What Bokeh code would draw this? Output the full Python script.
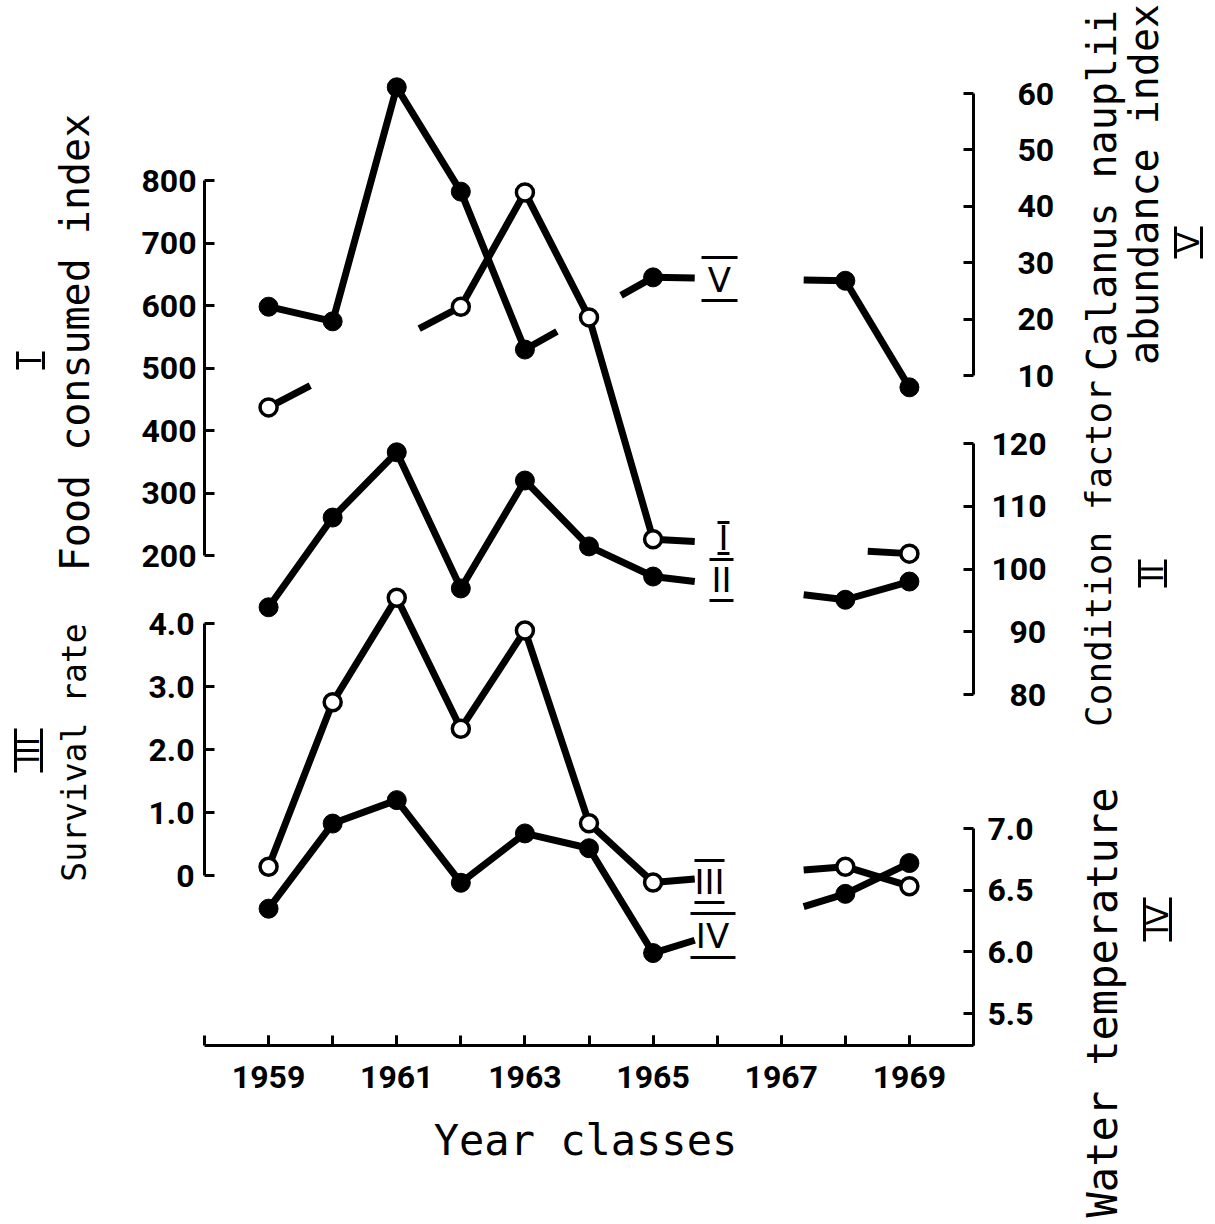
import math
from bokeh.plotting import figure
from bokeh.models import Range1d, LinearAxis, FixedTicker, Label, NumeralTickFormatter
from bokeh.embed import file_html
from bokeh.resources import INLINE
from bokeh.core.properties import value

# ---------------- data ----------------
years = [1959, 1960, 1961, 1962, 1963, 1964, 1965, 1966, 1967, 1968, 1969]
food_consumed_I = [437, None, None, 598, 781, 581, 226, None, None, None, 203]
condition_factor_II = [93.9, 108.2, 118.6, 96.9, 114.1, 103.6, 98.8, None, None, 95.1, 98.0]
survival_rate_III = [0.14, 2.75, 4.41, 2.33, 3.89, 0.83, -0.11, None, None, 0.14, -0.17]
water_temperature_IV = [6.35, 7.04, 7.23, 6.56, 6.96, 6.84, 5.99, None, None, 6.47, 6.72]
calanus_index_V = [22.2, 19.6, 61.1, 42.6, 14.6, None, 27.4, None, None, 26.8, 7.9]

x_major_ticks = [1959, 1961, 1963, 1965, 1967, 1969]
x_minor_ticks = [1958, 1959, 1960, 1961, 1962, 1963, 1964, 1965, 1966, 1967, 1968, 1969, 1970]
ticks_I = [200, 300, 400, 500, 600, 700, 800]
ticks_II = [80, 90, 100, 110, 120]
ticks_III = [0, 1, 2, 3, 4]
ticks_IV = [5.5, 6.0, 6.5, 7.0]
ticks_V = [10, 20, 30, 40, 50, 60]

# ---------------- layout ----------------
W, H, M = 1213, 1222, 0
X_L, X_R = 204, 973          # page x of 1958 and 1970
X_AXIS_Y = 1045              # page y of the year axis
ppy = (X_R - X_L) / 12.0
x_start = 1958 - (X_L - M) / ppy
x_end = x_start + W / ppy


def yr(va, ya, vb, yb):
    k = (vb - va) / (yb - ya)
    return Range1d(start=va + (H + M - ya) * k, end=va + (M - ya) * k)


def val_at(rng, ypage):
    return rng.start + (rng.end - rng.start) * (H + M - ypage) / H


p = figure(width=W, height=H, x_range=Range1d(x_start, x_end), y_range=Range1d(H, 0),
           x_axis_location=None, y_axis_location=None, toolbar_location=None,
           output_backend="svg", min_border=0, outline_line_color=None,
           background_fill_color="white", border_fill_color="white")
p.xgrid.visible = False
p.ygrid.visible = False

p.extra_x_ranges = {"px": Range1d(0, W)}
p.extra_y_ranges = {
    "I": yr(800, 180, 200, 555),
    "II": yr(120, 443, 80, 694),
    "III": yr(4.0, 623, 0.0, 875),
    "IV": yr(7.0, 828, 5.5, 1013),
    "V": yr(60, 93, 10, 375),
}

NUM_FONT = "Roboto"
TITLE_FONT = "DejaVu Sans Mono"
ROMAN_FONT = "DejaVu Sans"


def style_axis(ax, size):
    ax.axis_line_width = 3
    ax.axis_line_color = "black"
    ax.major_tick_in = 10
    ax.major_tick_out = 0
    ax.major_tick_line_width = 3
    ax.major_tick_line_color = "black"
    ax.major_label_text_font = NUM_FONT
    ax.major_label_text_font_size = size
    ax.major_label_text_font_style = "bold"
    ax.major_label_text_color = "black"


def add_y(name, ticks, side, loc, standoff, bounds=None, fmt=None, overrides=None):
    ax = LinearAxis(y_range_name=name, ticker=FixedTicker(ticks=ticks),
                    fixed_location=loc,
                    bounds=bounds if bounds is not None else (min(ticks), max(ticks)))
    style_axis(ax, "32px")
    ax.minor_tick_line_color = None
    ax.major_label_standoff = standoff
    if fmt is not None:
        ax.formatter = fmt
    if overrides is not None:
        ax.major_label_overrides = overrides
    p.add_layout(ax, side)
    return ax


add_y("I", ticks_I, "left", 1958, 8)
add_y("III", ticks_III, "left", 1958, 10, fmt=NumeralTickFormatter(format="0.0"),
      overrides={0: "0"})
add_y("V", ticks_V, "right", 1970, 44)
add_y("II", ticks_II, "right", 1970, 18,
      overrides={90: "\u200790", 80: "\u200780"})
iv_low = val_at(p.extra_y_ranges["IV"], X_AXIS_Y)
add_y("IV", ticks_IV, "right", 1970, 14, bounds=(iv_low, 7.0),
      fmt=NumeralTickFormatter(format="0.0"))

xax = LinearAxis(ticker=FixedTicker(ticks=x_major_ticks, minor_ticks=x_minor_ticks),
                 fixed_location=X_AXIS_Y - M, bounds=(1958, 1970))
style_axis(xax, "32px")
xax.minor_tick_in = 10
xax.minor_tick_out = 0
xax.minor_tick_line_width = 3
xax.minor_tick_line_color = "black"
xax.major_label_standoff = 20
p.add_layout(xax, "below")

# ---------------- series ----------------
LW = 7


def draw_series(vals, yname, filled):
    pts = [(yy, v) for yy, v in zip(years, vals) if v is not None]
    run = [pts[0]]
    segs = {"x0": [], "y0": [], "x1": [], "y1": []}

    def flush(r):
        if len(r) > 1:
            p.line([a for a, _ in r], [b for _, b in r], y_range_name=yname,
                   line_width=LW, line_color="black", line_join="round")

    for a, b in zip(pts[:-1], pts[1:]):
        if b[0] - a[0] == 1:
            run.append(b)
        else:
            flush(run)
            dx = b[0] - a[0]
            f = min(0.65, 0.25 * dx) / dx
            dy = b[1] - a[1]
            segs["x0"] += [a[0], b[0] - f * dx]
            segs["y0"] += [a[1], b[1] - f * dy]
            segs["x1"] += [a[0] + f * dx, b[0]]
            segs["y1"] += [a[1] + f * dy, b[1]]
            run = [b]
    flush(run)
    if segs["x0"]:
        p.segment(y_range_name=yname, line_width=LW, line_color="black", **segs)
    xs = [a for a, _ in pts]
    ys = [b for _, b in pts]
    if filled:
        p.scatter(xs, ys, y_range_name=yname, marker="circle", size=19,
                  fill_color="black", line_color="black")
    else:
        p.scatter(xs, ys, y_range_name=yname, marker="circle", size=17,
                  fill_color="white", line_color="black", line_width=3.5)


draw_series(calanus_index_V, "V", True)
draw_series(food_consumed_I, "I", False)
draw_series(condition_factor_II, "II", True)
draw_series(survival_rate_III, "III", False)
draw_series(water_temperature_IV, "IV", True)

# ---------------- inline roman labels (with vinculum bars) ----------------
inline = [
    # text, cx, cy, bar_top, bar_bottom, x_left, x_right
    ("V", 719, 279, 257, 300, 701, 737),
    ("I", 723, 537, 522, 553, 717, 729),
    ("II", 721, 579, 559, 600, 709, 733),
    ("III", 709, 881, 860, 902, 694, 724),
    ("IV", 712, 935, 913, 957, 690, 735),
]
p.text(x=[c[1] - M for c in inline], y=[c[2] - M for c in inline],
       text=[c[0] for c in inline], x_range_name="px",
       text_font=value(ROMAN_FONT), text_font_size="34px",
       text_align="center", text_baseline="middle", text_color="black")
bx0, by0, bx1, by1 = [], [], [], []
for c in inline:
    for yb in (c[3], c[4]):
        bx0.append(c[5] - M); bx1.append(c[6] - M)
        by0.append(yb - M); by1.append(yb - M)
p.segment(x0=bx0, y0=by0, x1=bx1, y1=by1, x_range_name="px",
          line_width=3, line_color="black")

# ---------------- axis titles ----------------
ROT = math.pi / 2


def title(text, xb, yc, size):
    p.add_layout(Label(x=xb - M, y=yc - M, x_range_name="px", text=text, angle=ROT,
                       text_font=TITLE_FONT, text_font_size=size, text_align="center",
                       text_baseline="alphabetic", text_color="black"))


title("Food consumed index", 74, 342, "40px")
title("Survival rate", 74, 752, "33px")
title("Calanus nauplii", 1101, 190, "40px")
title("abundance index", 1143, 184, "40px")
title("Condition factor", 1098, 553, "36px")
title("Water temperature", 1102, 1002, "42px")
p.add_layout(Label(x=585 - M, y=1140 - M, x_range_name="px", text="Year classes",
                   text_font=TITLE_FONT, text_font_size="42px", text_align="center",
                   text_baseline="alphabetic", text_color="black"))

# rotated roman markers next to the titles
markers = [
    # text, cx, cy, half_len (along y)
    ("I", 30, 360, 9),
    ("III", 28, 750, 22),
    ("V", 1188, 242, 16),
    ("II", 1152, 573, 14),
    ("IV", 1157, 919, 22),
]
for t, cx, cy, hl in markers:
    p.add_layout(Label(x=cx - M, y=cy - M, x_range_name="px", text=t, angle=ROT,
                       text_font=ROMAN_FONT, text_font_size="30px", text_align="center",
                       text_baseline="middle", text_color="black"))
mx0, my0, mx1, my1 = [], [], [], []
for t, cx, cy, hl in markers:
    for xb in (cx - 13, cx + 13):
        mx0.append(xb - M); mx1.append(xb - M)
        my0.append(cy - hl - M); my1.append(cy + hl - M)
p.segment(x0=mx0, y0=my0, x1=mx1, y1=my1, x_range_name="px",
          line_width=3, line_color="black")

open("out.html", "w").write(file_html(p, INLINE))
